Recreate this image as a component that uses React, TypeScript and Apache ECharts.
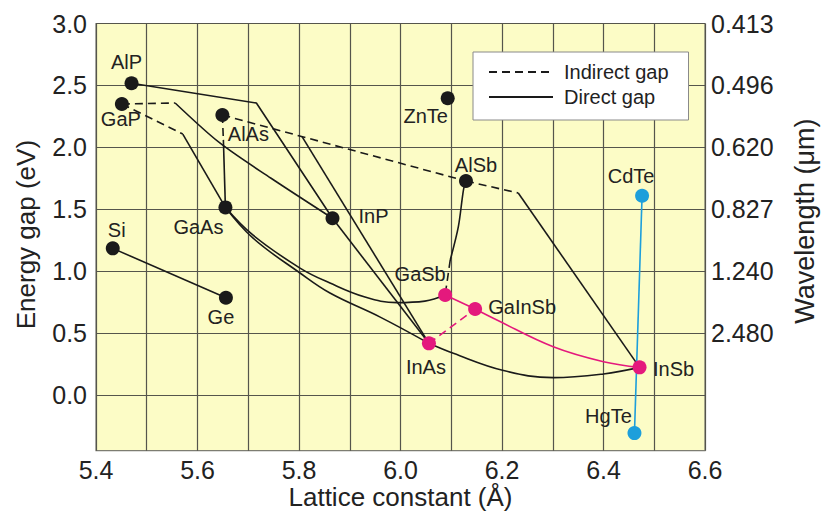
import React, { useEffect, useRef } from "react";
import * as echarts from "echarts";

// ---- Data ----
const blackNames = ["AlP", "GaP", "AlAs", "GaAs", "InP", "Si", "Ge", "ZnTe", "AlSb"];
const blackLattice = [5.47, 5.451, 5.649, 5.655, 5.866, 5.433, 5.656, 6.093, 6.129];
const blackGap = [2.517, 2.35, 2.261, 1.515, 1.427, 1.184, 0.785, 2.396, 1.728];

const magentaNames = ["GaSb", "GaInSb", "InAs", "InSb"];
const magentaLattice = [6.088, 6.147, 6.056, 6.471];
const magentaGap = [0.807, 0.694, 0.417, 0.223];

const blueNames = ["CdTe", "HgTe"];
const blueLattice = [6.476, 6.461];
const blueGap = [1.609, -0.308];

// curves: [lattice, gap]
const siGe = [[5.433, 1.184], [5.656, 0.785]];
const alpInP = [[5.47, 2.517], [5.716, 2.358], [5.866, 1.427]];
const inpInAs = [[5.866, 1.427], [6.056, 0.417]];
const gapInPIndirect = [[5.451, 2.35], [5.556, 2.358]];
const gapInPDirect = [[5.556, 2.358], [5.644, 2.035], [5.745, 1.75], [5.866, 1.427]];
const gapGaAsIndirect = [[5.451, 2.35], [5.571, 2.107]];
const gapGaAsDirect = [[5.571, 2.107], [5.655, 1.515]];
const alasGaAsIndirect = [[5.649, 2.261], [5.651, 2.06]];
const alasGaAsDirect = [[5.651, 2.06], [5.655, 1.515]];
const alasAlSbIndirect = [[5.649, 2.261], [6.129, 1.728]];
const alasInAsDirect = [[5.806, 2.087], [6.056, 0.417]];
const alsbInSbIndirect = [[6.129, 1.728], [6.232, 1.631]];
const alsbInSbDirect = [[6.232, 1.631], [6.471, 0.223]];
const alsbGaSbDirect = [[6.129, 1.728], [6.124, 1.655], [6.114, 1.359], [6.098, 1.09]];
const alsbGaSbIndirect = [[6.098, 1.09], [6.088, 0.807]];
const gaasGaSb = [[5.655, 1.515], [5.709, 1.292], [5.802, 1.025], [5.861, 0.904], [5.93, 0.791], [5.993, 0.746], [6.048, 0.758], [6.088, 0.807]];
const gaasInAs = [[5.655, 1.515], [5.709, 1.268], [5.802, 0.985], [5.861, 0.823], [5.96, 0.629], [6.056, 0.417]];
const inasInSb = [[6.056, 0.417], [6.104, 0.336], [6.203, 0.197], [6.301, 0.14], [6.4, 0.17], [6.471, 0.223]];
const gasbGaInSb = [[6.088, 0.807], [6.147, 0.694]];
const gainsbInSb = [[6.147, 0.694], [6.19, 0.605], [6.301, 0.389], [6.4, 0.268], [6.471, 0.223]];
const inasGaInSb = [[6.056, 0.417], [6.147, 0.694]];
const cdteHgTe = [[6.476, 1.609], [6.461, -0.308]];

// tick labels
const energyTicks = [0, 0.5, 1, 1.5, 2, 2.5, 3];
const wavelengthEnergies = [0.5, 1, 1.5, 2, 2.5, 3];
const wavelengthLabels = ["2.480", "1.240", "0.827", "0.620", "0.496", "0.413"];

// ---- Styling ----
const FONT = "'Liberation Sans', Arial, Helvetica, sans-serif";
const TEXT = "#222222";
const BLACK = "#1a1a1a";
const MAGENTA = "#e4197d";
const BLUE = "#1d9fdb";
const DASH = [8, 5];

const labelOffset: Record<string, [number, number]> = {
  AlP: [-5, -21],
  GaP: [-1, 15],
  AlAs: [26, 19],
  GaAs: [-27, 20],
  InP: [41, -2],
  Si: [4, -18],
  Ge: [-5, 19],
  ZnTe: [-22, 18],
  AlSb: [10, -16],
  CdTe: [-11, -20],
  GaSb: [-25, -21],
  GaInSb: [47, -2],
  InAs: [-3, 24],
  InSb: [34, 2],
  HgTe: [-26, -17],
};

function lineSeries(name: string, data: number[][], color: string, dashed: boolean, smooth: number | boolean = false) {
  return {
    type: "line",
    name,
    data,
    symbol: "none",
    smooth,
    silent: true,
    z: 2,
    lineStyle: { color, width: 1.6, type: dashed ? DASH : "solid" },
    itemStyle: { color },
  };
}

function pointSeries(name: string, names: string[], xs: number[], ys: number[], color: string) {
  return {
    type: "scatter",
    name,
    symbolSize: 14,
    z: 4,
    itemStyle: { color, opacity: 1 },
    data: names.map((n, i) => ({
      name: n,
      value: [xs[i], ys[i]],
      label: { offset: labelOffset[n] },
    })),
    label: {
      show: true,
      position: "inside",
      formatter: (p: any) => p.name,
      fontSize: 20,
      fontFamily: FONT,
      color: TEXT,
      align: "center",
      verticalAlign: "middle",
    },
  };
}

export default function App() {
  const ref = useRef<HTMLDivElement>(null);

  useEffect(() => {
    document.body.style.margin = "0";
    if (!ref.current) return;
    const chart = echarts.init(ref.current, null, { renderer: "svg" });
    const IND = "Indirect gap";
    const DIR = "Direct gap";
    const option: any = {
      animation: false,
      textStyle: { fontFamily: FONT },
      grid: {
        left: 96,
        right: 117,
        top: 23.5,
        bottom: 62.3,
        outerBoundsMode: "none",
        containLabel: false,
        show: true,
        backgroundColor: "#fcfcc6",
        borderColor: "#7d7d72",
        borderWidth: 1.2,
      },
      legend: {
        data: [IND, DIR],
        orient: "vertical",
        left: 473,
        top: 52,
        itemWidth: 64,
        itemHeight: 14,
        itemGap: 5,
        padding: [10, 20, 13, 15],
        backgroundColor: "#ffffff",
        borderColor: "#8a8a8a",
        borderWidth: 1,
        borderRadius: 0,
        selectedMode: false,
        itemStyle: { opacity: 0 },
        textStyle: { fontSize: 20, color: TEXT, fontFamily: FONT, lineHeight: 20, padding: [0, 0, 0, 6] },
      },
      xAxis: {
        type: "value",
        min: 5.4,
        max: 6.6,
        interval: 0.1,
        name: "Lattice constant (Å)",
        nameLocation: "middle",
        nameGap: 33,
        nameMoveOverlap: false,
        nameTextStyle: { fontSize: 26, color: TEXT, fontFamily: FONT },
        axisLine: { show: false },
        axisTick: { show: false },
        axisLabel: {
          fontSize: 25,
          color: TEXT,
          fontFamily: FONT,
          margin: 7,
          showMinLabel: true,
          showMaxLabel: true,
          formatter: (v: number) => (Math.round(v * 10) % 2 === 0 ? v.toFixed(1) : ""),
        },
        splitLine: { show: true, lineStyle: { color: "#55554c", width: 1.2 } },
      },
      yAxis: [
        {
          type: "value",
          min: -0.45,
          max: 3.0,
          name: "Energy gap (eV)",
          nameLocation: "middle",
          nameGap: 57,
          nameMoveOverlap: false,
          nameTextStyle: { fontSize: 26, color: TEXT, fontFamily: FONT, padding: [0, 0, 0, 5] },
          axisLine: { show: false },
          axisTick: { show: false, customValues: energyTicks },
          axisLabel: {
            customValues: energyTicks,
            fontSize: 25,
            color: TEXT,
            fontFamily: FONT,
            margin: 9,
            showMaxLabel: true,
            formatter: (v: number) => v.toFixed(1),
          },
          splitLine: { show: true, lineStyle: { color: "#55554c", width: 1.2 } },
        },
        {
          type: "value",
          position: "right",
          min: -0.45,
          max: 3.0,
          name: "Wavelength (μm)",
          nameLocation: "middle",
          nameGap: 86,
          nameMoveOverlap: false,
          nameTextStyle: { fontSize: 27, color: TEXT, fontFamily: FONT, padding: [0, 0, 0, 32] },
          axisLine: { show: false },
          axisTick: { show: false, customValues: wavelengthEnergies },
          axisLabel: {
            customValues: wavelengthEnergies,
            fontSize: 25,
            color: TEXT,
            fontFamily: FONT,
            margin: 6,
            showMaxLabel: true,
            formatter: (v: number) => {
              const i = wavelengthEnergies.findIndex((e) => Math.abs(e - v) < 1e-6);
              return i >= 0 ? wavelengthLabels[i] : "";
            },
          },
          splitLine: { show: false },
        },
      ],
      series: [
        lineSeries(DIR, siGe, BLACK, false),
        lineSeries(DIR, alpInP, BLACK, false),
        lineSeries(DIR, inpInAs, BLACK, false),
        lineSeries(IND, gapInPIndirect, BLACK, true),
        lineSeries(DIR, gapInPDirect, BLACK, false, 0.3),
        lineSeries(IND, gapGaAsIndirect, BLACK, true),
        lineSeries(DIR, gapGaAsDirect, BLACK, false),
        lineSeries(IND, alasGaAsIndirect, BLACK, true),
        lineSeries(DIR, alasGaAsDirect, BLACK, false),
        lineSeries(IND, alasAlSbIndirect, BLACK, true),
        lineSeries(DIR, alasInAsDirect, BLACK, false),
        lineSeries(IND, alsbInSbIndirect, BLACK, true),
        lineSeries(DIR, alsbInSbDirect, BLACK, false),
        lineSeries(DIR, alsbGaSbDirect, BLACK, false, 0.3),
        lineSeries(IND, alsbGaSbIndirect, BLACK, true),
        lineSeries(DIR, gaasGaSb, BLACK, false, 0.4),
        lineSeries(DIR, gaasInAs, BLACK, false, 0.4),
        lineSeries(DIR, inasInSb, BLACK, false, 0.4),
        lineSeries("GaInSb direct", gasbGaInSb, MAGENTA, false),
        lineSeries("GaInSb direct", gainsbInSb, MAGENTA, false, 0.4),
        lineSeries("GaInSb indirect", inasGaInSb, MAGENTA, true),
        lineSeries("HgCdTe", cdteHgTe, BLUE, false),
        pointSeries("Compounds", blackNames, blackLattice, blackGap, BLACK),
        pointSeries("Antimonides", magentaNames, magentaLattice, magentaGap, MAGENTA),
        pointSeries("Tellurides", blueNames, blueLattice, blueGap, BLUE),
      ],
    };
    chart.setOption(option);
    return () => chart.dispose();
  }, []);

  return <div ref={ref} style={{ width: 822, height: 513 }} />;
}
